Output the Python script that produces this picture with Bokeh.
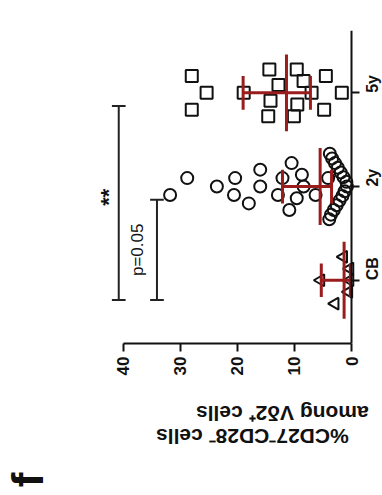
import math
from bokeh.plotting import figure
from bokeh.models import Range1d, FixedTicker, Label, ColumnDataSource, LinearAxis
from bokeh.embed import file_html
from bokeh.resources import INLINE

# ---------------- data ----------------
categories = ["CB", "2y", "5y"]
cb_values = [0.3, 0.3, 0.5, 1.4, 2.9, 5.4]
y2_values = [0.8, 0.9, 1.2, 1.4, 1.6, 1.9, 2.1, 2.4, 2.6, 2.9, 3.1, 3.4, 3.6, 3.8, 3.9,
             4.1, 6.3, 8.4, 8.7, 9.6, 10.5, 10.9, 12.1, 12.9, 16.0, 16.0, 18.0,
             20.4, 20.6, 23.6, 28.8, 31.8]
y5_values = [1.7, 4.5, 4.8, 7.0, 8.4, 9.5, 9.6, 10.1, 12.8, 14.2, 14.4, 14.6,
             18.9, 25.4, 28.0, 28.0]
medians = [1.3, 5.5, 11.4]
q1_values = [0.2, 3.5, 7.2]
q3_values = [5.3, 12.1, 19.0]
value_ticks = [0, 10, 20, 30, 40]
bracket_from = ["CB", "CB"]
bracket_to = ["5y", "2y"]
bracket_height = [40.8, 34.1]
bracket_text = ["**", "p=0.05"]
axis_title = ["%CD27\u207bCD28\u207b cells", "among V\u03b42\u207a cells"]
panel_letter = "f"

FONT = "Liberation Sans"
RED = "#9b1c1c"
INK = "#111111"


def swarm_offsets(vals, bin_width=3.15):
    order = sorted(range(len(vals)), key=lambda i: vals[i])
    offs = [0.0] * len(vals)
    bins = []
    for i in order:
        if bins and vals[i] - vals[bins[-1][0]] <= bin_width:
            bins[-1].append(i)
        else:
            bins.append([i])
    for b in bins:
        n = len(b)
        if n == 1:
            continue
        total = 0.5 if n <= 5 else 0.7
        s = min(0.18, total / (n - 1))
        for k, i in enumerate(b):
            if n % 2 == 1:
                m = (k + 1) // 2
                o = 0.0 if k == 0 else m * s * (1 if k % 2 == 1 else -1)
            else:
                m = k // 2
                o = (m + 0.5) * s * (1 if k % 2 == 0 else -1)
            offs[i] = o
    return offs


cat_pos = {c: i for i, c in enumerate(categories)}

p = figure(width=382, height=495, output_backend="svg", toolbar_location=None,
           x_range=Range1d(60.65, -5.43), y_range=Range1d(-0.675, 2.665),
           x_axis_location="below", y_axis_location="right",
           min_border_left=5, min_border_right=0, min_border_top=30,
           min_border_bottom=152)
p.outline_line_color = None
p.xgrid.visible = False
p.ygrid.visible = False
p.background_fill_color = "white"
p.border_fill_color = "white"

# value axis (bottom)
xa = p.xaxis[0]
xa.ticker = FixedTicker(ticks=value_ticks)
xa.bounds = (0, 40)
xa.axis_line_width = 2
xa.axis_line_color = INK
xa.major_tick_line_width = 2
xa.major_tick_line_color = INK
xa.major_tick_out = 8
xa.major_tick_in = 0
xa.minor_tick_line_color = None
xa.major_label_orientation = math.pi / 2
xa.major_label_text_font = FONT
xa.major_label_text_font_style = "bold"
xa.major_label_text_font_size = "17px"
xa.major_label_text_color = INK
xa.major_label_standoff = 5


def text_axis(text, at, orientation, size, standoff):
    # an axis without line or ticks whose single tick label carries the text
    ax = LinearAxis(ticker=FixedTicker(ticks=[at]),
                    major_label_overrides={at: text},
                    axis_line_color=None, major_tick_line_color=None,
                    major_tick_out=0, major_tick_in=0,
                    minor_tick_line_color=None,
                    major_label_orientation=orientation,
                    major_label_text_font=FONT, major_label_text_font_style="bold",
                    major_label_text_font_size=size, major_label_text_color=INK,
                    major_label_standoff=standoff)
    p.add_layout(ax, "below")
    return ax


text_axis(axis_title[1], 22.4, math.pi, "21px", 35)
text_axis(axis_title[0], 22.4, math.pi, "21px", -3)
text_axis(panel_letter, 56.8, math.pi / 2, "44px", 10)

# category axis (right, pinned at value 0)
ya = p.yaxis[0]
ya.fixed_location = 0
ya.ticker = FixedTicker(ticks=list(range(len(categories))))
ya.major_label_overrides = {i: c for i, c in enumerate(categories)}
ya.axis_line_width = 2
ya.axis_line_color = INK
ya.major_tick_line_width = 2
ya.major_tick_line_color = INK
ya.major_tick_out = 8
ya.major_tick_in = 0
ya.minor_tick_line_color = None
ya.major_label_orientation = math.pi / 2
ya.major_label_text_font = FONT
ya.major_label_text_font_style = "bold"
ya.major_label_text_font_size = "16px"
ya.major_label_text_color = INK
ya.major_label_standoff = 13

# points
groups = [("CB", cb_values, "triangle", 12),
          ("2y", y2_values, "circle", 12),
          ("5y", y5_values, "square", 12)]
for cat, vals, marker, size in groups:
    offs = swarm_offsets(vals)
    src = ColumnDataSource(dict(x=vals, y=[cat_pos[cat] + o for o in offs]))
    p.scatter("x", "y", source=src, marker=marker, size=size,
              fill_color=None, line_color=INK, line_width=2,
              angle=math.pi / 2 if marker == "triangle" else 0.0)

# median and interquartile range
cy = [cat_pos[c] for c in categories]
p.segment(x0=q1_values, y0=cy, x1=q3_values, y1=cy, line_color=RED, line_width=3)
p.segment(x0=medians, y0=[c - 0.41 for c in cy], x1=medians, y1=[c + 0.41 for c in cy],
          line_color=RED, line_width=3)
p.segment(x0=q1_values, y0=[c - 0.18 for c in cy], x1=q1_values, y1=[c + 0.18 for c in cy],
          line_color=RED, line_width=3)
p.segment(x0=q3_values, y0=[c - 0.18 for c in cy], x1=q3_values, y1=[c + 0.18 for c in cy],
          line_color=RED, line_width=3)

# significance brackets
b0 = [cat_pos[c] - 0.21 for c in bracket_from]
b1 = [cat_pos[c] - 0.14 for c in bracket_to]
p.segment(x0=bracket_height, y0=b0, x1=bracket_height, y1=b1, line_color="#222222", line_width=2)
for yy in (b0, b1):
    p.segment(x0=[h + 1.2 for h in bracket_height], y0=yy,
              x1=[h - 1.2 for h in bracket_height], y1=yy,
              line_color="#222222", line_width=2)

p.add_layout(Label(x=bracket_height[0] + 1.8, y=(b0[0] + b1[0]) / 2 + 0.06, text=bracket_text[0],
                   angle=math.pi / 2, text_align="center", text_baseline="middle",
                   text_font=FONT, text_font_style="bold", text_font_size="22px",
                   text_color=INK))
p.add_layout(Label(x=(bracket_height[0] + bracket_height[1]) / 2, y=(b0[1] + b1[1]) / 2,
                   text=bracket_text[1], angle=math.pi / 2, text_align="center",
                   text_baseline="middle", text_font=FONT, text_font_size="17px",
                   text_color=INK))

open("out.html", "w").write(file_html(p, INLINE))
